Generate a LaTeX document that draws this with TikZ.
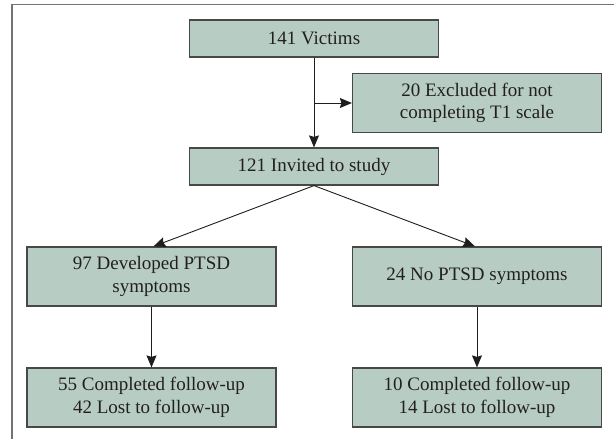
\documentclass[tikz,border=0pt]{standalone}
\usepackage{fontspec}
\setmainfont{Liberation Serif}
\definecolor{BoxColor}{RGB}{183,205,196}
\definecolor{EdgeColor}{RGB}{72,72,72}
\definecolor{LineColor}{RGB}{30,30,30}
\definecolor{FrameColor}{RGB}{115,115,115}
\definecolor{TextColor}{RGB}{35,31,32}
\usetikzlibrary{positioning, arrows.meta, calc}
\tikzstyle{arrow} = [line width=0.9pt, LineColor, -{Stealth[length=12pt, width=10pt, inset=1.5pt]}]
\tikzset{
  flowbox/.style={rectangle, draw=EdgeColor, line width=1.2pt, fill=BoxColor,
    minimum width=249pt, minimum height=37pt, inner sep=0pt, align=center,
    text=TextColor, font=\fontsize{19}{22.5}\selectfont},
  tallbox/.style={flowbox, minimum height=59pt}
}

\begin{document}
\begin{tikzpicture}[x=1pt, y=-1pt]
    \useasboundingbox (0,0) rectangle (614,439);

    % Outer frame
    \draw[FrameColor, line width=1.5pt] (12,439) -- (12,4.5) -- (614,4.5);

    % Boxes
    \node[flowbox] (victims) at (314,38.5) {141 Victims};
    \node[tallbox] (excluded) at (477,103) {20 Excluded for not\\completing T1 scale};
    \node[flowbox] (invited) at (314,166.5) {121 Invited to study};
    \node[tallbox] (ptsd) at (151.5,276.5) {97 Developed PTSD\\symptoms};
    \node[tallbox] (noptsd) at (477,276.5) {24 No PTSD symptoms};
    \node[tallbox] (ptsdfollow) at (151.5,397.5) {55 Completed follow-up\\42 Lost to follow-up};
    \node[tallbox] (noptsdfollow) at (477,397.5) {10 Completed follow-up\\14 Lost to follow-up};

    % Connectors
    \draw[arrow] (victims.south) -- (invited.north);
    \draw[arrow] (victims.south |- excluded.west) -- (excluded.west);
    \draw[arrow] (invited.south) -- ($(ptsd.north)+(2,0)$);
    \draw[arrow] (invited.south) -- ($(noptsd.north)+(-2,0)$);
    \draw[arrow] (ptsd.south) -- (ptsdfollow.north);
    \draw[arrow] (noptsd.south) -- (noptsdfollow.north);
\end{tikzpicture}
\end{document}
